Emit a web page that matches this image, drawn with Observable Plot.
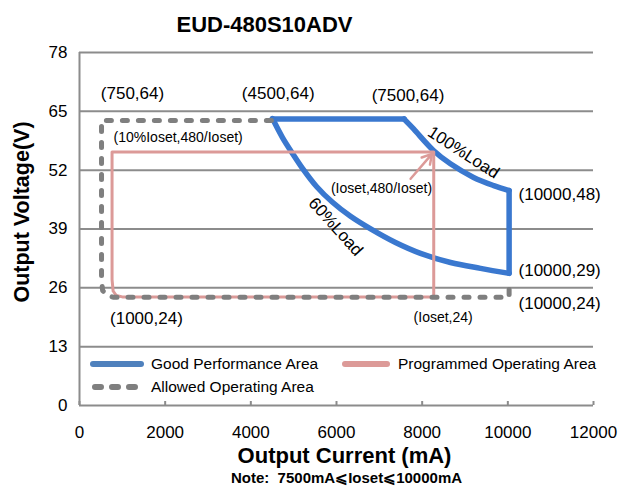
<!DOCTYPE html>
<html>
<head>
<meta charset="utf-8">
<script src="https://cdn.jsdelivr.net/npm/d3@7"></script>
<script src="https://cdn.jsdelivr.net/npm/@observablehq/plot@0.6"></script>
<style>
  html, body { margin: 0; padding: 0; background: #fff; }
  #chart { width: 618px; height: 492px; }
</style>
</head>
<body>
<div id="chart"></div>
<script>
// ---- tick labels ----
const xTicks = [0, 2000, 4000, 6000, 8000, 10000, 12000];
const yTicks = [0, 13, 26, 39, 52, 65, 78];

// ---- Good Performance Area (blue) ----
const goodTopX = [4500, 7580];
const goodTopY = [63.3, 63.3];
const load100X = [7580, 7800, 8270, 8660, 9200, 9670, 10030];
const load100Y = [63.3, 61.1, 56.3, 53.4, 50.4, 48.6, 47.5];
const goodRightX = [10030, 10030];
const goodRightY = [47.5, 29.2];
const load60X = [4506, 4739, 4973, 5206, 5533, 5907, 6327, 6817, 7377, 7961, 8662, 9362, 10030];
const load60Y = [63.4, 59.2, 55.7, 52.4, 48.4, 44.9, 41.8, 38.9, 36.0, 33.6, 31.6, 30.3, 29.2];

// ---- Allowed Operating Area (gray dashed) ----
const allowedX = [4480, 514, 514, 540, 640, 800, 10030, 10030];
const allowedY = [63.0, 63.0, 27.8, 25.4, 24.3, 23.9, 23.9, 28.0];

// ---- Programmed Operating Area (pink) ----
const programmedX = [8270, 8270, 760, 760, 785, 860, 1000, 8270];
const programmedY = [24.0, 56.0, 56.0, 27.8, 25.3, 24.3, 24.0, 24.0];

// ---- arrow (Ioset,480/Ioset) ----
const arrowFrom = [7730, 50.1];
const arrowTo = [8230, 55.6];

// ---- annotations ----
const annText = ["(750,64)", "(4500,64)", "(7500,64)", "(10000,48)", "(10000,29)", "(10000,24)", "(1000,24)",
                 "(Ioset,24)", "(10%Ioset,480/Ioset)", "(Ioset,480/Ioset)", "100%Load", "60%Load"];
const annX = [1237, 4640, 7670, 10250, 10250, 10250, 1562, 8490, 795, 7050, 8965, 5980];
const annY = [68.9, 68.9, 68.5, 46.6, 29.8, 22.5, 19.2, 19.4, 59.2, 47.9, 55.9, 39.5];
const annSize = [17, 17, 17, 17, 17, 17, 17, 14, 14, 14, 17, 17];
const annAnchor = ["middle", "middle", "middle", "start", "start", "start", "middle", "middle", "start", "middle", "middle", "middle"];
const annRotate = [0, 0, 0, 0, 0, 0, 0, 0, 0, 0, 33, 48];

// ---- legend ----
const legendNames = ["Good Performance Area", "Programmed Operating Area", "Allowed Operating Area"];

// ---- colors ----
const BLUE = "#3a78cf";
const PINK = "#dc9a98";
const GRAY = "#7f7f7f";
const GRID = "#8c8c8c";

const zip = (xs, ys, seg) => xs.map((x, i) => ({x, y: ys[i], seg}));
const goodRows = [
  ...zip(goodTopX, goodTopY, "top"),
  ...zip(load100X, load100Y, "l100"),
  ...zip(goodRightX, goodRightY, "right"),
  ...zip(load60X, load60Y, "l60")
];
const allowedRows = zip(allowedX, allowedY, "a");
const programmedRows = zip(programmedX, programmedY, "p");
const ann = annText.map((t, i) => ({t, x: annX[i], y: annY[i], s: annSize[i], a: annAnchor[i], r: annRotate[i]}));

const FONT = "'Liberation Sans', Arial, sans-serif";

const chart = Plot.plot({
  width: 618,
  height: 492,
  marginTop: 52,
  marginBottom: 87,
  marginLeft: 79,
  marginRight: 25,
  style: {fontFamily: FONT, fontSize: "17px", color: "#000", background: "#fff"},
  x: {domain: [0, 12000], label: null},
  y: {domain: [0, 78], label: null},
  marks: [
    Plot.gridY(yTicks, {stroke: GRID, strokeOpacity: 1, strokeWidth: 2}),
    Plot.ruleX([0], {stroke: GRID, strokeWidth: 2}),
    Plot.axisX({ticks: xTicks, tickSize: 4, dy: -4, tickFormat: () => "", stroke: GRID, strokeWidth: 2}),
    Plot.axisX({ticks: xTicks, tickSize: 0, tickPadding: 20, fontSize: 17, tickFormat: d => String(d)}),
    Plot.axisY({ticks: yTicks, tickSize: 0, tickPadding: 12, fontSize: 17, tickFormat: d => String(d)}),
    Plot.line(goodRows, {x: "x", y: "y", z: "seg", stroke: BLUE, strokeWidth: 5.5, curve: "catmull-rom", strokeLinecap: "round", strokeLinejoin: "round"}),
    Plot.line(programmedRows, {x: "x", y: "y", stroke: PINK, strokeWidth: 3, strokeLinejoin: "round"}),
    Plot.line(allowedRows, {x: "x", y: "y", stroke: GRAY, strokeWidth: 5, strokeDasharray: "5,11", strokeLinecap: "round", strokeLinejoin: "round"}),
    Plot.arrow([{x1: arrowFrom[0], y1: arrowFrom[1], x2: arrowTo[0], y2: arrowTo[1]}],
      {x1: "x1", y1: "y1", x2: "x2", y2: "y2", stroke: PINK, strokeWidth: 2.5, headLength: 10}),
    ...ann.map(d => Plot.text([d], {x: "x", y: "y", text: "t", fontSize: d.s, textAnchor: d.a, rotate: d.r, fill: "#000"})),
    Plot.text(["EUD-480S10ADV"], {text: d => d, frameAnchor: "top", textAnchor: "middle", dx: -72, dy: -36, fontSize: 22, fontWeight: "bold"}),
    Plot.text(["Output Voltage(V)"], {text: d => d, frameAnchor: "left", textAnchor: "middle", dx: -57, dy: -17, rotate: -90, fontSize: 21.5, fontWeight: "bold"}),
    Plot.text(["Output Current (mA)"], {text: d => d, frameAnchor: "bottom", textAnchor: "middle", dx: 8, dy: 57, fontSize: 22, fontWeight: "bold"}),
    Plot.text(["Note:  7500mA⩽Ioset⩽10000mA"], {text: d => d, frameAnchor: "bottom", textAnchor: "middle", dx: 10, dy: 77, fontSize: 15, fontWeight: "bold"})
  ]
});

document.getElementById("chart").appendChild(chart);

// legend inside plot area
const svg = d3.select(chart);
const lg = svg.append("g");
const items = [
  {name: legendNames[0], color: "#4f81bd", x1: 93, x2: 141, y: 364, dash: null, tx: 151},
  {name: legendNames[1], color: PINK, x1: 345, x2: 387, y: 364, dash: null, tx: 398},
  {name: legendNames[2], color: GRAY, x1: 95, x2: 137, y: 387, dash: "6,11", tx: 151}
];
for (const it of items) {
  const l = lg.append("line").attr("x1", it.x1).attr("x2", it.x2).attr("y1", it.y).attr("y2", it.y)
    .attr("stroke", it.color).attr("stroke-width", 6).attr("stroke-linecap", "round");
  if (it.dash) l.attr("stroke-dasharray", it.dash);
  lg.append("text").attr("x", it.tx).attr("y", it.y).attr("dy", "0.35em")
    .style("font-family", FONT).style("font-size", "15.5px").style("text-anchor", "start")
    .attr("fill", "#000").text(it.name);
}
</script>
</body>
</html>
